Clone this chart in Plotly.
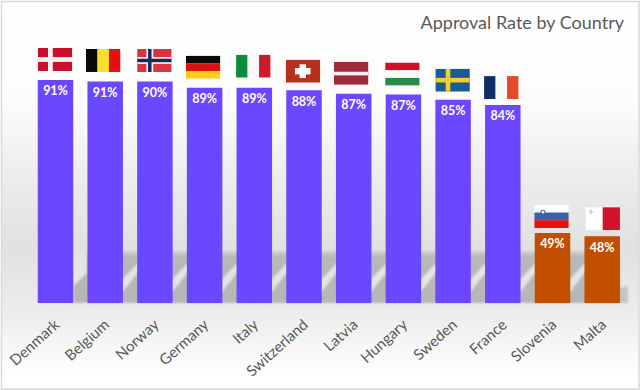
import base64
import plotly.graph_objects as go

# ---- data ----
countries = ["Denmark", "Belgium", "Norway", "Germany", "Italy", "Switzerland",
             "Latvia", "Hungary", "Sweden", "France", "Slovenia", "Malta"]
values = [91.0, 90.6, 90.6, 88.9, 88.9, 88.2, 87.2, 87.0, 85.6, 84.1, 49.0, 48.1]
labels = ["91%", "91%", "90%", "89%", "89%", "88%", "87%", "87%", "85%", "84%", "49%", "48%"]
groups = ["high"] * 10 + ["low"] * 2

# ---- styling ----
W, H = 640, 390
BASE_PX = 303
STEP = 49.7
X0_PX = 55.5
PX_PER_UNIT = 3.64
AXIS_MIN = 91 - (BASE_PX - 80) / PX_PER_UNIT
AXIS_MAX = AXIS_MIN + BASE_PX / PX_PER_UNIT
BAR_PX = 35.5
LABEL_DROP_PX = 6
GROUP_COLORS = {"high": "#6B47FF", "low": "#C24E00"}
TEXT = "#595959"
FONT = "Lato, 'Open Sans', sans-serif"


def uri(svg):
    return "data:image/svg+xml;base64," + base64.b64encode(svg.encode()).decode()


def background():
    parts = [f'<svg xmlns="http://www.w3.org/2000/svg" width="{W}" height="{H}" viewBox="0 0 {W} {H}">',
             '<defs><linearGradient id="g" x1="0" y1="0" x2="0" y2="1">'
             '<stop offset="0" stop-color="#ffffff"/><stop offset="0.26" stop-color="#fcfcfc"/>'
             '<stop offset="0.46" stop-color="#ececec"/><stop offset="0.63" stop-color="#e1e1e1"/>'
             '<stop offset="0.80" stop-color="#ececec"/><stop offset="0.90" stop-color="#f8f8f8"/>'
             '<stop offset="0.97" stop-color="#ffffff"/><stop offset="1" stop-color="#ffffff"/></linearGradient>'
             '<linearGradient id="s" x1="0" y1="0" x2="0" y2="1">'
             '<stop offset="0" stop-color="#d0d0d0"/><stop offset="0.12" stop-color="#b8b8b8"/>'
             '<stop offset="1" stop-color="#b6b6b6"/></linearGradient>'
             '<filter id="b"><feGaussianBlur stdDeviation="1.1"/></filter></defs>',
             f'<rect x="1.5" y="1.5" width="{W-2.5}" height="{H-2.5}" fill="url(#g)" stroke="#d9d9d9" stroke-width="1.5"/>',
             '<g filter="url(#b)">']
    n = len(values)
    right = [X0_PX + i * STEP + BAR_PX / 2 for i in range(n)]
    # first gap: a lone wedge with no band above it
    r = right[0]
    parts.append(f'<polygon points="{r},303 {r},286 {r+14},273 {r+14},303" fill="#b6b6b6"/>')
    # band behind the remaining bars
    parts.append(f'<rect x="{right[1]-36}" y="251" width="{right[-1]-right[1]+36}" height="52" fill="url(#s)"/>')
    # light diagonal streak in each gap
    for i in range(1, n - 1):
        r = right[i]
        parts.append(f'<polygon points="{r-2},294 {r-2},281 {r+16},262 {r+16},271" fill="#e4e4e4"/>')
    # tail right of the final bar
    r = right[-1]
    parts.append(f'<polygon points="{r},303 {r},288 {r+8},286 {r+8},303" fill="#c4c4c4"/>')
    parts.append('</g></svg>')
    return uri("".join(parts))


def stripes_h(cols):
    h = 100 / len(cols)
    return "".join(f'<rect x="0" y="{i*h}" width="150" height="{h+0.5}" fill="{c}"/>' for i, c in enumerate(cols))


def stripes_v(cols):
    w = 150 / len(cols)
    return "".join(f'<rect x="{i*w}" y="0" width="{w+0.5}" height="100" fill="{c}"/>' for i, c in enumerate(cols))


def nordic(bg, cross, inner=None, cx=46, wide=18, thin=8):
    s = f'<rect width="150" height="100" fill="{bg}"/>'
    s += f'<rect x="{cx-wide/2}" width="{wide}" height="100" fill="{cross}"/>'
    s += f'<rect y="{50-wide/2}" width="150" height="{wide}" fill="{cross}"/>'
    if inner:
        s += f'<rect x="{cx-thin/2}" width="{thin}" height="100" fill="{inner}"/>'
        s += f'<rect y="{50-thin/2}" width="150" height="{thin}" fill="{inner}"/>'
    return s


FLAGS = {
    "Denmark": nordic("#C8102E", "#FBEFF0", cx=55, wide=21),
    "Belgium": stripes_v(["#0A0A0A", "#FADF2A", "#E60F0F"]),
    "Norway": nordic("#DC343E", "#F5F0F0", "#14285F", cx=55, wide=30, thin=15),
    "Germany": stripes_h(["#0A0A0A", "#DD1010", "#FFCE1A"]),
    "Italy": stripes_v(["#0A8C3C", "#F8F8F8", "#CE1A2B"]),
    "Switzerland": '<rect width="150" height="100" fill="#B8301C"/>'
                   '<rect x="60" y="20" width="28" height="60" fill="#fff"/><rect x="40" y="36" width="68" height="28" fill="#fff"/>',
    "Latvia": '<rect width="150" height="100" fill="#9E2A3C"/><rect y="43" width="150" height="16" fill="#F4EEEE"/>',
    "Hungary": stripes_h(["#CE1126", "#FAFAFA", "#2A8A4A"]),
    "Sweden": nordic("#1B5A94", "#F0CF2F", cx=55, wide=20),
    "France": stripes_v(["#0F2F66", "#F8F8F8", "#E8482A"]),
    "Slovenia": stripes_h(["#FFFFFF", "#3A62A8", "#E8100F"]) +
                '<circle cx="38" cy="32" r="11" fill="#3A62A8"/><circle cx="38" cy="32" r="6" fill="#fff"/>',
    "Malta": stripes_v(["#FFFFFF", "#CF142B"]) +
             '<path d="M24 8v24M12 20h24" stroke="#c4c4c4" stroke-width="5"/>',
}
# nudge of each flag relative to its bar: (px right, px gap above the bar top)
FLAG_NUDGE = {
    "Denmark": (-0.5, 9), "Belgium": (-2, 9.5), "Norway": (-0.5, 9.5), "Germany": (-1.5, 9),
    "Italy": (-1, 10), "Switzerland": (-1, 7.5), "Latvia": (-2.5, 9), "Hungary": (-1, 9),
    "Sweden": (-0.5, 8), "France": (-1.5, 6), "Slovenia": (-1, 5), "Malta": (0.5, 6),
}

images = [dict(source=background(), xref="paper", yref="paper", x=0, y=1, sizex=1, sizey=1,
               xanchor="left", yanchor="top", sizing="stretch", layer="below")]
for i, (name, val) in enumerate(zip(countries, values)):
    dx, gap = FLAG_NUDGE[name]
    svg = ('<svg xmlns="http://www.w3.org/2000/svg" width="150" height="100" viewBox="0 0 150 100" '
           'preserveAspectRatio="none">' + FLAGS[name] + '</svg>')
    images.append(dict(source=uri(svg), xref="x", yref="y", x=i + dx / STEP, y=val + gap / PX_PER_UNIT,
                       sizex=34.5 / STEP, sizey=23 / PX_PER_UNIT, xanchor="center", yanchor="bottom",
                       sizing="stretch", layer="above"))

fig = go.Figure()
fig.add_bar(x=list(range(len(countries))), y=values, width=BAR_PX / STEP,
            marker=dict(color=[GROUP_COLORS[g] for g in groups], line=dict(width=0)),
            hoverinfo="skip", showlegend=False)
fig.add_scatter(x=list(range(len(countries))), y=[v - LABEL_DROP_PX / PX_PER_UNIT for v in values],
                mode="text", text=labels, textposition="bottom center",
                textfont=dict(family=FONT, size=12.5, color="#FFFFFF", weight="bold"),
                hoverinfo="skip", showlegend=False)
fig.update_layout(
    width=W, height=H, margin=dict(l=0, r=0, t=0, b=0), autosize=False,
    paper_bgcolor="rgba(0,0,0,0)", plot_bgcolor="rgba(0,0,0,0)", images=images,
    title=dict(text="Approval Rate by Country", x=624 / W, y=1 - 23 / H, xref="paper", yref="paper",
               xanchor="right", yanchor="middle", font=dict(family=FONT, size=18, color=TEXT)),
    font=dict(family=FONT),
    xaxis=dict(range=[-X0_PX / STEP, (W - X0_PX) / STEP], tickmode="array",
               tickvals=list(range(len(countries))), ticktext=countries, tickangle=-42,
               tickfont=dict(family=FONT, size=15, color=TEXT), showgrid=False, zeroline=False,
               showline=False, ticks="", ticklabelstandoff=9, automargin=False),
    yaxis=dict(domain=[(H - BASE_PX) / H, 1], range=[AXIS_MIN, AXIS_MAX], visible=False),
    bargap=0.28,
)
fig.write_html("out.html", config=dict(displayModeBar=False),
               post_script="document.body.style.margin='0';document.documentElement.style.overflow='hidden';")
